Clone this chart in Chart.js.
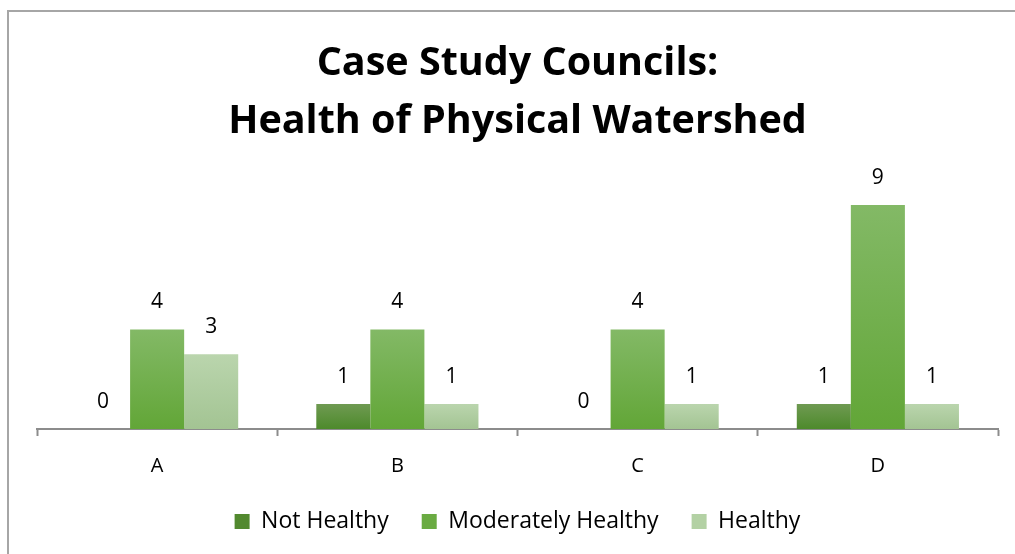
<!DOCTYPE html>
<html>
<head>
    <title>Case Study Councils</title>
    <script src="https://cdn.jsdelivr.net/npm/chart.js"></script>
    <style>
        body { margin: 0; background: #fff; overflow: hidden; }
        #frame {
            position: absolute; left: 7px; top: 10px;
            width: 1020px; height: 560px;
            border: 2px solid #a6a6a6;
        }
        #wrap { position: absolute; left: 0; top: 0; width: 1015px; height: 554px; }
    </style>
</head>
<body>
<div id="frame"></div>
<div id="wrap"><canvas id="healthChart"></canvas></div>

<script>
    const councils = ['A', 'B', 'C', 'D'];
    const notHealthy = [0, 1, 0, 1];
    const moderatelyHealthy = [4, 4, 4, 9];
    const healthy = [3, 1, 1, 1];

    const FONT = '"Open Sans", Lato, sans-serif';

    // vertical gradient per bar, lighter at the top
    function barFill(top, bottom) {
        return function (context) {
            const chart = context.chart;
            if (context.type !== 'data' || !chart.chartArea) return bottom;
            const y = chart.scales.y;
            const yTop = y.getPixelForValue(context.parsed.y);
            const yBase = y.getPixelForValue(0);
            if (yBase - yTop < 1) return bottom;
            const g = chart.ctx.createLinearGradient(0, yTop, 0, yBase);
            g.addColorStop(0, top);
            g.addColorStop(1, bottom);
            return g;
        };
    }

    // value labels above each bar
    const valueLabels = {
        id: 'valueLabels',
        afterDatasetsDraw(chart) {
            const ctx = chart.ctx;
            ctx.save();
            ctx.font = '21px ' + FONT;
            ctx.fillStyle = '#000';
            ctx.textAlign = 'center';
            ctx.textBaseline = 'middle';
            chart.data.datasets.forEach((ds, i) => {
                chart.getDatasetMeta(i).data.forEach((bar, j) => {
                    ctx.fillText(String(ds.data[j]), bar.x, bar.y - 27);
                });
            });
            ctx.restore();
        }
    };

    const ctx = document.getElementById('healthChart').getContext('2d');
    const healthChart = new Chart(ctx, {
        type: 'bar',
        data: {
            labels: councils,
            datasets: [{
                label: 'Not Healthy',
                data: notHealthy,
                backgroundColor: barFill('#6f9a52', '#4d8a2b'),
                legendColor: '#52892f'
            }, {
                label: 'Moderately Healthy',
                data: moderatelyHealthy,
                backgroundColor: barFill('#83b966', '#62a637'),
                legendColor: '#6aab42'
            }, {
                label: 'Healthy',
                data: healthy,
                backgroundColor: barFill('#bad5ad', '#a3c493'),
                legendColor: '#b3d1a4'
            }]
        },
        options: {
            responsive: true,
            maintainAspectRatio: false,
            animation: false,
            layout: { padding: { left: 37, right: 17, top: 35, bottom: 11 } },
            datasets: { bar: { categoryPercentage: 0.675, barPercentage: 1 } },
            plugins: {
                title: {
                    display: true,
                    text: ['Case Study Councils:', 'Health of Physical Watershed'],
                    color: '#000',
                    font: { family: FONT, size: 39.5, weight: 'bold', lineHeight: 1.47 },
                    padding: { top: 0, bottom: 29 }
                },
                legend: {
                    position: 'bottom',
                    labels: {
                        color: '#000',
                        font: { family: FONT, size: 23 },
                        boxWidth: 15,
                        boxHeight: 15,
                        padding: 33,
                        generateLabels(chart) {
                            return chart.data.datasets.map((ds, i) => ({
                                text: ds.label,
                                fillStyle: ds.legendColor,
                                strokeStyle: ds.legendColor,
                                lineWidth: 0,
                                datasetIndex: i
                            }));
                        }
                    }
                },
                tooltip: { enabled: false }
            },
            scales: {
                x: {
                    grid: {
                        drawOnChartArea: false,
                        tickLength: 7,
                        tickColor: '#8c8c8c',
                        tickWidth: 2
                    },
                    border: { color: '#8c8c8c', width: 2 },
                    ticks: { color: '#000', font: { family: FONT, size: 20 }, padding: 18 },
                    // trim the empty band under the category labels
                    afterFit(scale) { scale.height -= 19; }
                },
                y: {
                    display: false,
                    min: 0,
                    max: 10
                }
            }
        },
        plugins: [valueLabels]
    });
</script>
</body>
</html>
